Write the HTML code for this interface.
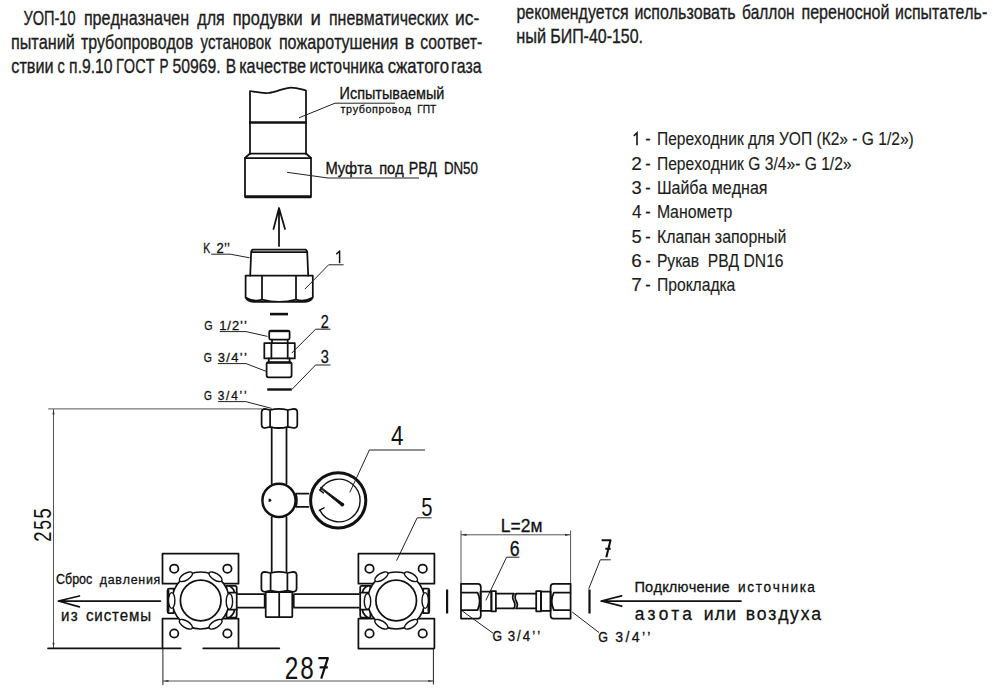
<!DOCTYPE html>
<html><head><meta charset="utf-8">
<style>
html,body{margin:0;padding:0;background:#fff;overflow:hidden;}
svg{display:block;}
text{font-family:"Liberation Sans",sans-serif;font-kerning:none;}
.t{fill:#1c1c1c;stroke:#1c1c1c;stroke-width:0.35;}
.g{fill:#111;stroke:#111;stroke-width:0.3;}
.lg{stroke-width:0.15;}
.nost{stroke-width:0;}
.k{fill:none;stroke:#111;stroke-width:1.75;stroke-linejoin:round;stroke-linecap:round;}
.kw{fill:#fff;stroke:#111;stroke-width:1.75;stroke-linejoin:round;}
.th{fill:none;stroke:#222;stroke-width:1;}
.dm{fill:none;stroke:#555;stroke-width:1;}
</style></head>
<body>
<svg width="1000" height="693" viewBox="0 0 1000 693">
<path d="M637,145.3 V132.8 L633.8,135.8" fill="none" stroke="#1c1c1c" stroke-width="1.65" stroke-linejoin="miter"/>
<!-- test pipe -->
<path class="k" d="M250,154 V91 C256,92 262,93.5 268,93 C276,92.5 284,87.5 291,87.5 C297,87.5 302,89.5 306,90.5 V154"/>
<line x1="249" y1="122.5" x2="306.5" y2="122.5" stroke="#111" stroke-width="2.6"/>
<path class="k" d="M250,153.5 H306 L311,158 M250,153.5 L245,158"/>
<path class="k" d="M245,158 H311 V197 H245 Z"/>
<line x1="245" y1="196.8" x2="311" y2="196.8" stroke="#111" stroke-width="3"/>
<!-- leaders top -->
<path class="th" d="M299,117.8 L335,103.2 H395"/>
<path class="th" d="M287,172.3 L328,178 H419"/>
<!-- arrow up -->
<path class="k" d="M279,246 V208 M273.5,229 L279,208 L285,229"/>
<!-- item 1 -->
<path class="k" d="M251.2,251.5 L252.5,249.6 H305.8 L307.2,251.5 L308.2,275.6 M251.2,251.5 L250.2,275.6 M251.4,252 H307"/>
<path class="k" d="M245.6,275.6 H312.8 V297.5 Q311,301.6 305,301.8 H253.4 Q247.4,301.6 245.6,297.5 Z M262,275.6 V299.6 M296,275.6 V299.6 M245.6,297.5 Q254,302.5 262,299.6 Q279,304 296,299.6 Q304,302.5 312.8,297.5"/>
<path class="th" d="M211.2,254.2 H230.4 L249.6,257.8"/>
<path class="th" d="M328.6,264.8 H343.6 M328.6,264.8 L304.8,289.2"/>
<path d="M339.6,263.3 V251 L336.3,254.3" fill="none" stroke="#111" stroke-width="1.5" stroke-linejoin="round"/>
<!-- washer 1 -->
<rect x="270" y="312.8" width="18" height="2.6" fill="#111"/>
<!-- item 2 -->
<rect class="k" x="269.2" y="330.5" width="20.4" height="9.1" rx="1.5"/>
<line x1="270" y1="331.2" x2="289" y2="331.2" stroke="#111" stroke-width="2"/>
<path class="k" d="M272,339.6 V343.2 M287.7,339.6 V343.2"/>
<rect class="k" x="264.3" y="343.2" width="30.5" height="15.2"/>
<path class="k" d="M271.4,343.2 V358.4 M287.7,343.2 V358.4"/>
<path class="k" d="M268.8,358.4 V362 M289.6,358.4 V362"/>
<rect class="k" x="266.6" y="362" width="25" height="15.3" rx="2"/>
<line x1="267" y1="362.8" x2="291" y2="362.8" stroke="#111" stroke-width="2"/>
<!-- washer 2 -->
<rect x="267.2" y="388.3" width="24.6" height="2.4" fill="#111"/>
<!-- leaders 2 3 -->
<path class="th" d="M315.6,329.2 H330.5 M315.6,329.2 L291.6,353.2"/>
<path class="th" d="M315.6,365 H330.5 M315.6,365 L291.8,389.5"/>
<path class="th" d="M219.7,331.6 H246 L267.5,336.4"/>
<path class="th" d="M217.8,363.6 H246 L266.1,371.3"/>
<path class="th" d="M218,401.6 H245.8 L271.6,408.4"/>
<!-- dim 255 -->
<path class="dm" d="M48.2,408.9 H262 M53.5,409 V648"/>
<path class="k" d="M48,648.3 H180.7 M203.2,648.3 H279.3" stroke-width="1.3" stroke-linecap="butt"/>
<path d="M53.5,409.5 L52.4,414.5 L54.6,414.5 Z M53.5,647.8 L52.4,642.8 L54.6,642.8 Z" fill="#333"/>
<!-- lower hex nut -->
<path class="kw" d="M265.1,408.8 L270.1,410.0 Q278.95000000000005,407.6 287.8,410.0 L293.8,408.8 Q297.3,408.8 297.3,412.3 V424.5 Q297.3,428.0 293.8,428.0 L287.8,426.8 Q278.95000000000005,429.2 270.1,426.8 L265.1,428.0 Q261.6,428.0 261.6,424.5 V412.3 Q261.6,408.8 265.1,408.8 Z M270.1,410.0 V426.8 M287.8,410.0 V426.8"/>
<!-- vertical pipe -->
<path class="k" d="M271.7,427.8 V483.5 M286.5,427.8 V483.5 M271.7,517 V571.7 M286.5,517 V571.7"/>
<!-- tee circle -->
<circle cx="279" cy="500.4" r="16.6" fill="#fff" stroke="#111" stroke-width="2.5"/>
<path d="M268.6,498.6 Q271.6,499 271.4,500.6 Q271,502.2 268.6,502 Z" fill="#111"/>
<!-- connector to gauge -->
<path class="k" d="M296,493.6 H308.5 M296,506.8 H308.5"/>
<path d="M296,494 Q298,500.3 296,506.5" fill="none" stroke="#111" stroke-width="1.6"/>
<!-- gauge -->
<circle cx="338.2" cy="500.4" r="27.6" fill="#fff" stroke="#111" stroke-width="3"/>
<path d="M320.1,490.3 A21.3,21.3 0 1 1 319.8,510.1" fill="none" stroke="#111" stroke-width="1.4"/>
<path d="M319.6,489.9 L323.4,492.9 M319.3,510.4 L324,507.8" fill="none" stroke="#111" stroke-width="1.4" stroke-linecap="round"/>
<polygon points="320.13,488.07 341.50,505.63 343.10,503.57 320.87,487.13" fill="#111" stroke="#111" stroke-width="0.8" stroke-linejoin="round"/>
<circle cx="342.3" cy="504.6" r="1.9" fill="#111"/>
<path class="th" d="M349.8,492.4 L369.4,450 H425"/>
<!-- label 5 -->
<path class="th" d="M396.6,560.6 L417.2,517.8 H431.6"/>
<!-- bottom tee -->
<path class="k" d="M236.7,594.1 H264.5 M236.7,607.7 H264.5 M294,594.1 H359 M294,607.7 H359"/>
<rect x="263.8" y="594.5" width="2.6" height="12.8" fill="#111"/>
<rect x="292" y="594.5" width="2.6" height="12.8" fill="#111"/>
<rect class="kw" x="265.7" y="592" width="26.6" height="25.2" rx="1"/>
<path class="k" d="M279.2,592 V617"/>
<path class="kw" d="M264.9,571.8 L270.6,573.0 Q279.0,570.5999999999999 287.4,573.0 L293.1,571.8 Q296.6,571.8 296.6,575.3 V588.3 Q296.6,591.8 293.1,591.8 L287.4,590.5999999999999 Q279.0,593.0 270.6,590.5999999999999 L264.9,591.8 Q261.4,591.8 261.4,588.3 V575.3 Q261.4,571.8 264.9,571.8 Z M270.6,573.0 V590.5999999999999 M287.4,573.0 V590.5999999999999"/>
<!-- valves -->
<defs><g id="valve">
<path class="k" d="M-38.2,-16.8 V-47 H37.8 V-16.8 H-38.2"/>
<path class="k" d="M-38.2,47.5 V18 H37.8 V47.5"/>
<circle class="k" cx="-26.5" cy="-31.8" r="4.2" stroke-width="1.4"/>
<circle class="k" cx="26.7" cy="-31.8" r="4.2" stroke-width="1.4"/>
<circle class="k" cx="-26.5" cy="33" r="4.2" stroke-width="1.4"/>
<circle class="k" cx="26.7" cy="33" r="4.2" stroke-width="1.4"/>
<path class="kw" d="M25.8,-14.7 H34.5 Q36,-14.7 36,-13 V15 Q36,17 34.5,17 H25.8 Z"/>
<path class="k" d="M28,-7.8 H36 M28,9.2 H36 M29,-14.5 Q34,-11 33.5,-7.8 M29,16.8 Q34,13 33.5,9.2"/>
<path class="kw" d="M-27,-12 H-31.5 Q-33,-12 -33,-10.5 V11 Q-33,12.7 -31.5,12.7 H-27 Z"/>
<path d="M-32.6,-10.5 V11.2" stroke="#111" stroke-width="2.6" fill="none"/>
<circle cx="0" cy="0" r="28.5" fill="#fff" stroke="#111" stroke-width="1.6"/>
<circle class="k" cx="0" cy="0" r="20.3"/>
<g fill="#fff" stroke="#111" stroke-width="1.4">
<ellipse cx="0" cy="-28" rx="7.5" ry="3.3" transform="rotate(-32)"/>
<ellipse cx="0" cy="-28" rx="7.5" ry="3.3" transform="rotate(32)"/>
<ellipse cx="0" cy="28" rx="7.5" ry="3.3" transform="rotate(-32)"/>
<ellipse cx="0" cy="28" rx="7.5" ry="3.3" transform="rotate(32)"/>
<ellipse cx="28.7" cy="0.9" rx="3.2" ry="7.9"/>
<ellipse cx="-29" cy="0" rx="3.2" ry="7.9"/>
</g>
</g></defs>
<use href="#valve" transform="translate(200.7,600.5)"/>
<use href="#valve" transform="translate(396.2,600.5) scale(-1,1)"/>
<path class="k" d="M358.5,648.5 H434"/>
<!-- dim 287 -->
<path class="dm" d="M163,681 H433.3"/>
<path class="th" d="M162.9,648 V685 M433.4,649 V684.5" stroke="#111"/>
<path d="M163.5,681 L168.5,679.9 L168.5,682.1 Z M433.3,681 L428.3,679.9 L428.3,682.1 Z" fill="#333"/>
<!-- сброс arrow -->
<path class="k" d="M58.4,601 H160.4 M79.4,596 L58.4,601 L79.4,606.8" stroke-width="1.4"/>
<!-- hose -->
<path class="dm" d="M461,530.5 V584 M570.6,530.5 V584 M461,534.8 H570.6"/>
<path d="M461.5,534.8 L466.5,533.7 L466.5,535.9 Z M570.1,534.8 L565.1,533.7 L565.1,535.9 Z" fill="#333"/>
<path class="th" d="M506.6,557.2 H519.4 M506.6,557.2 L485.8,600.4"/>
<path class="k" d="M461,583.8 H477.8 Q480.8,583.8 480.8,587 V615.4 Q480.8,618.6 477.8,618.6 H461 Z M461,592.6 H477.6 M461,610 H477.6 M477.6,592.6 Q481.8,601.3 477.6,610"/>
<rect class="k" x="480.5" y="591.6" width="10.9" height="19.2"/>
<rect class="k" x="491.4" y="591" width="4.5" height="20.3"/>
<path class="k" d="M495.9,593.7 H513.8 M495.9,608.4 H513.8 M516.2,593.7 H536.2 M516.2,608.4 H536.2"/>
<path class="k" d="M513.8,593.7 Q511.5,597 513.8,601 Q516,605 513.8,608.4 M516.2,593.7 Q514,597 516.2,601 Q518.5,605 516.2,608.4" stroke-width="1.1"/>
<rect class="k" x="536.2" y="591" width="4.8" height="20.3"/>
<rect class="k" x="541" y="591.6" width="9.6" height="19.2"/>
<path class="k" d="M570.6,583.8 H553.6 Q550.6,583.8 550.6,587 V615.4 Q550.6,618.6 553.6,618.6 H570.6 Z M570.6,592.6 H553.8 M570.6,610 H553.8 M553.8,592.6 Q549.6,601.3 553.8,610"/>
<rect x="446" y="589.5" width="2.2" height="24" fill="#111"/>
<rect x="588.4" y="589.5" width="2.2" height="24" fill="#111"/>
<path class="th" d="M600.3,559.8 H610.7 M600.3,559.8 L588.7,588.9"/>
<path d="M601.6,540.3 H610.5 L606.3,557.2 M605.3,548.8 H610.7" fill="none" stroke="#111" stroke-width="2.1" stroke-linejoin="round"/>
<path d="M318.3,658.2 H327.8 L321.2,678.6 M319.6,667.4 H327.8" fill="none" stroke="#111" stroke-width="2.2" stroke-linejoin="round"/>
<path class="th" d="M462,610.8 L493,633.2 M572.2,612 L599,632.5"/>
<path class="k" d="M601.2,601 H741 M621.6,595.8 L601.2,601 L621.6,606.2" stroke-width="1.3"/>

<text class="t" x="23.41" y="24.50" font-size="20.20" textLength="52.16" lengthAdjust="spacingAndGlyphs">УОП-10</text>
<text class="t" x="83.88" y="24.50" font-size="20.20" textLength="105.23" lengthAdjust="spacingAndGlyphs">предназначен</text>
<text class="t" x="197.34" y="24.50" font-size="20.20" textLength="27.47" lengthAdjust="spacingAndGlyphs">для</text>
<text class="t" x="232.76" y="24.50" font-size="20.20" textLength="69.87" lengthAdjust="spacingAndGlyphs">продувки</text>
<text class="t" x="310.61" y="24.50" font-size="20.20" textLength="10.38" lengthAdjust="spacingAndGlyphs">и</text>
<text class="t" x="329.00" y="24.50" font-size="20.20" textLength="119.57" lengthAdjust="spacingAndGlyphs">пневматических</text>
<text class="t" x="454.99" y="24.50" font-size="20.20" textLength="24.29" lengthAdjust="spacingAndGlyphs">ис-</text>
<text class="t" x="10.88" y="48.70" font-size="20.20" textLength="63.95" lengthAdjust="spacingAndGlyphs">пытаний</text>
<text class="t" x="80.93" y="48.70" font-size="20.20" textLength="112.26" lengthAdjust="spacingAndGlyphs">трубопроводов</text>
<text class="t" x="200.46" y="48.70" font-size="20.20" textLength="70.46" lengthAdjust="spacingAndGlyphs">установок</text>
<text class="t" x="278.88" y="48.70" font-size="20.20" textLength="119.23" lengthAdjust="spacingAndGlyphs">пожаротушения</text>
<text class="t" x="404.76" y="48.70" font-size="20.20" textLength="9.52" lengthAdjust="spacingAndGlyphs">в</text>
<text class="t" x="420.33" y="48.70" font-size="20.20" textLength="61.96" lengthAdjust="spacingAndGlyphs">соответ-</text>
<text class="t" x="11.31" y="72.60" font-size="20.20" textLength="42.32" lengthAdjust="spacingAndGlyphs">ствии</text>
<text class="t" x="57.38" y="72.60" font-size="20.20" textLength="7.31" lengthAdjust="spacingAndGlyphs">с</text>
<text class="t" x="69.11" y="72.60" font-size="20.20" textLength="43.51" lengthAdjust="spacingAndGlyphs">п.9.10</text>
<text class="t" x="116.01" y="72.60" font-size="20.20" textLength="38.52" lengthAdjust="spacingAndGlyphs">ГОСТ</text>
<text class="t" x="159.59" y="72.60" font-size="20.20" textLength="9.02" lengthAdjust="spacingAndGlyphs">Р</text>
<text class="t" x="172.47" y="72.60" font-size="20.20" textLength="48.17" lengthAdjust="spacingAndGlyphs">50969.</text>
<text class="t" x="225.72" y="72.60" font-size="20.20" textLength="10.40" lengthAdjust="spacingAndGlyphs">В</text>
<text class="t" x="239.31" y="72.60" font-size="20.20" textLength="66.82" lengthAdjust="spacingAndGlyphs">качестве</text>
<text class="t" x="309.41" y="72.60" font-size="20.20" textLength="74.19" lengthAdjust="spacingAndGlyphs">источника</text>
<text class="t" x="387.69" y="72.60" font-size="20.20" textLength="61.32" lengthAdjust="spacingAndGlyphs">сжатого</text>
<text class="t" x="451.00" y="72.60" font-size="20.20" textLength="30.60" lengthAdjust="spacingAndGlyphs">газа</text>
<text class="t" x="516.47" y="18.50" font-size="20.20" textLength="112.13" lengthAdjust="spacingAndGlyphs">рекомендуется</text>
<text class="t" x="634.39" y="18.50" font-size="20.20" textLength="101.26" lengthAdjust="spacingAndGlyphs">использовать</text>
<text class="t" x="741.89" y="18.50" font-size="20.20" textLength="52.68" lengthAdjust="spacingAndGlyphs">баллон</text>
<text class="t" x="801.49" y="18.50" font-size="20.20" textLength="88.03" lengthAdjust="spacingAndGlyphs">переносной</text>
<text class="t" x="895.10" y="18.50" font-size="20.20" textLength="92.11" lengthAdjust="spacingAndGlyphs">испытатель-</text>
<text class="t" x="516.16" y="42.50" font-size="20.20" textLength="29.97" lengthAdjust="spacingAndGlyphs">ный</text>
<text class="t" x="550.19" y="42.50" font-size="20.20" textLength="92.87" lengthAdjust="spacingAndGlyphs">БИП-40-150.</text>
<text class="t lg" x="645.27" y="145.30" font-size="18.75" textLength="5.46" lengthAdjust="spacingAndGlyphs">-</text>
<text class="t lg" x="656.94" y="145.30" font-size="18.75" textLength="256.83" lengthAdjust="spacingAndGlyphs">Переходник для УОП (К2» - G 1/2»)</text>
<text class="t lg" x="631.34" y="169.60" font-size="18.47" textLength="10.62" lengthAdjust="spacingAndGlyphs">2</text>
<text class="t lg" x="645.27" y="169.60" font-size="18.75" textLength="5.46" lengthAdjust="spacingAndGlyphs">-</text>
<text class="t lg" x="656.93" y="169.60" font-size="18.75" textLength="194.60" lengthAdjust="spacingAndGlyphs">Переходник G 3/4»- G 1/2»</text>
<text class="t lg" x="631.60" y="193.80" font-size="18.47" textLength="10.21" lengthAdjust="spacingAndGlyphs">3</text>
<text class="t lg" x="645.27" y="193.80" font-size="18.75" textLength="5.46" lengthAdjust="spacingAndGlyphs">-</text>
<text class="t lg" x="656.89" y="193.80" font-size="18.75" textLength="110.62" lengthAdjust="spacingAndGlyphs">Шайба медная</text>
<text class="t lg" x="631.90" y="218.30" font-size="18.75" textLength="9.60" lengthAdjust="spacingAndGlyphs">4</text>
<text class="t lg" x="645.27" y="218.30" font-size="18.75" textLength="5.46" lengthAdjust="spacingAndGlyphs">-</text>
<text class="t lg" x="656.90" y="218.30" font-size="18.75" textLength="75.37" lengthAdjust="spacingAndGlyphs">Манометр</text>
<text class="t lg" x="631.57" y="242.60" font-size="18.75" textLength="10.21" lengthAdjust="spacingAndGlyphs">5</text>
<text class="t lg" x="645.27" y="242.60" font-size="18.75" textLength="5.46" lengthAdjust="spacingAndGlyphs">-</text>
<text class="t lg" x="656.90" y="242.60" font-size="18.75" textLength="129.40" lengthAdjust="spacingAndGlyphs">Клапан запорный</text>
<text class="t lg" x="631.34" y="266.60" font-size="18.47" textLength="10.49" lengthAdjust="spacingAndGlyphs">6</text>
<text class="t lg" x="645.27" y="266.60" font-size="18.75" textLength="5.46" lengthAdjust="spacingAndGlyphs">-</text>
<text class="t lg" x="656.92" y="266.60" font-size="18.75" textLength="126.67" lengthAdjust="spacingAndGlyphs">Рукав  РВД DN16</text>
<text class="t lg" x="631.32" y="290.50" font-size="18.75" textLength="10.64" lengthAdjust="spacingAndGlyphs">7</text>
<text class="t lg" x="645.27" y="290.50" font-size="18.75" textLength="5.46" lengthAdjust="spacingAndGlyphs">-</text>
<text class="t lg" x="656.93" y="290.50" font-size="18.75" textLength="78.27" lengthAdjust="spacingAndGlyphs">Прокладка</text>
<text class="g" x="339.62" y="98.60" font-size="16.28" textLength="104.78" lengthAdjust="spacingAndGlyphs">Испытываемый</text>
<text class="g" transform="translate(340.52,112.90) scale(0.95,1)" x="0" y="0" font-size="11.32" letter-spacing="0.67">трубопровод</text>
<text class="g" x="417.16" y="112.90" font-size="11.77" textLength="19.07" lengthAdjust="spacingAndGlyphs">ГПТ</text>
<text class="g" x="325.39" y="174.30" font-size="15.70" textLength="46.71" lengthAdjust="spacingAndGlyphs">Муфта</text>
<text class="g" x="379.18" y="174.30" font-size="15.70" textLength="24.67" lengthAdjust="spacingAndGlyphs">под</text>
<text class="g" x="408.74" y="174.30" font-size="15.70" textLength="28.42" lengthAdjust="spacingAndGlyphs">РВД</text>
<text class="g" x="443.91" y="174.30" font-size="15.70" textLength="34.01" lengthAdjust="spacingAndGlyphs">DN50</text>
<text class="g" x="203.14" y="252.70" font-size="13.95" textLength="6.98" lengthAdjust="spacingAndGlyphs">K</text>
<text class="g" transform="translate(216.54,252.70) scale(0.95,1)" x="0" y="0" font-size="13.75" letter-spacing="0.21">2’’</text>
<text class="g" x="204.16" y="330.00" font-size="13.46" textLength="8.34" lengthAdjust="spacingAndGlyphs">G</text>
<text class="g" transform="translate(219.21,330.00) scale(0.95,1)" x="0" y="0" font-size="13.66" letter-spacing="1.00">1/2’’</text>
<text class="g" x="320.67" y="327.80" font-size="18.05" textLength="8.06" lengthAdjust="spacingAndGlyphs">2</text>
<text class="g" x="203.68" y="361.90" font-size="13.46" textLength="8.10" lengthAdjust="spacingAndGlyphs">G</text>
<text class="g" transform="translate(217.81,361.90) scale(0.95,1)" x="0" y="0" font-size="13.66" letter-spacing="1.37">3/4’’</text>
<text class="g" x="320.85" y="362.90" font-size="18.47" textLength="8.09" lengthAdjust="spacingAndGlyphs">3</text>
<text class="g" x="203.89" y="400.40" font-size="12.32" textLength="7.86" lengthAdjust="spacingAndGlyphs">G</text>
<text class="g" transform="translate(217.75,400.40) scale(0.95,1)" x="0" y="0" font-size="12.50" letter-spacing="1.84">3/4’’</text>
<text class="g nost" x="390.89" y="445.00" font-size="27.62" textLength="12.47" lengthAdjust="spacingAndGlyphs">4</text>
<text class="g nost" x="421.19" y="515.80" font-size="25.00" textLength="11.26" lengthAdjust="spacingAndGlyphs">5</text>
<text class="g" x="509.70" y="555.60" font-size="21.48" textLength="9.88" lengthAdjust="spacingAndGlyphs">6</text>
<text class="g" x="500.87" y="532.40" font-size="18.60" textLength="41.64" lengthAdjust="spacingAndGlyphs">L=2м</text>
<text class="g" x="492.38" y="641.20" font-size="13.75" textLength="9.53" lengthAdjust="spacingAndGlyphs">G</text>
<text class="g" transform="translate(507.70,641.20) scale(0.95,1)" x="0" y="0" font-size="13.95" letter-spacing="2.16">3/4’’</text>
<text class="g" x="598.37" y="642.20" font-size="14.61" textLength="9.77" lengthAdjust="spacingAndGlyphs">G</text>
<text class="g" transform="translate(615.36,642.20) scale(0.95,1)" x="0" y="0" font-size="14.83" letter-spacing="2.44">3/4’’</text>
<text class="g" x="55.96" y="584.20" font-size="13.75" textLength="36.37" lengthAdjust="spacingAndGlyphs">Сброс</text>
<text class="g" transform="translate(99.68,584.20) scale(0.95,1)" x="0" y="0" font-size="13.09" letter-spacing="0.78">давления</text>
<text class="g" transform="translate(60.95,621.40) scale(0.95,1)" x="0" y="0" font-size="15.90" letter-spacing="1.32">из</text>
<text class="g" transform="translate(85.96,621.40) scale(0.95,1)" x="0" y="0" font-size="15.90" letter-spacing="0.91">системы</text>
<text class="g" transform="translate(634.41,591.60) scale(0.95,1)" x="0" y="0" font-size="15.41" letter-spacing="0.21">Подключение</text>
<text class="g" transform="translate(738.05,591.60) scale(0.95,1)" x="0" y="0" font-size="14.39" letter-spacing="1.68">источника</text>
<text class="g" transform="translate(634.87,620.30) scale(0.95,1)" x="0" y="0" font-size="18.21" letter-spacing="3.27">азота</text>
<text class="g" transform="translate(703.78,620.30) scale(0.95,1)" x="0" y="0" font-size="18.55" letter-spacing="1.30">или</text>
<text class="g" transform="translate(745.78,620.30) scale(0.95,1)" x="0" y="0" font-size="18.55" letter-spacing="1.80">воздуха</text>
<text class="g nost" x="284.77" y="678.80" font-size="30.93" textLength="13.55" lengthAdjust="spacingAndGlyphs">2</text>
<text class="g nost" x="300.24" y="678.80" font-size="30.93" textLength="13.51" lengthAdjust="spacingAndGlyphs">8</text>
<g transform="translate(50.9,0) rotate(-90)"><text class="g nost" x="-541.83" y="0.00" font-size="23.92" textLength="10.25" lengthAdjust="spacingAndGlyphs">2</text></g>
<g transform="translate(50.9,0) rotate(-90)"><text class="g nost" x="-529.80" y="0.00" font-size="24.27" textLength="9.74" lengthAdjust="spacingAndGlyphs">5</text></g>
<g transform="translate(50.9,0) rotate(-90)"><text class="g nost" x="-518.43" y="0.00" font-size="24.27" textLength="10.21" lengthAdjust="spacingAndGlyphs">5</text></g>
</svg>
</body></html>
